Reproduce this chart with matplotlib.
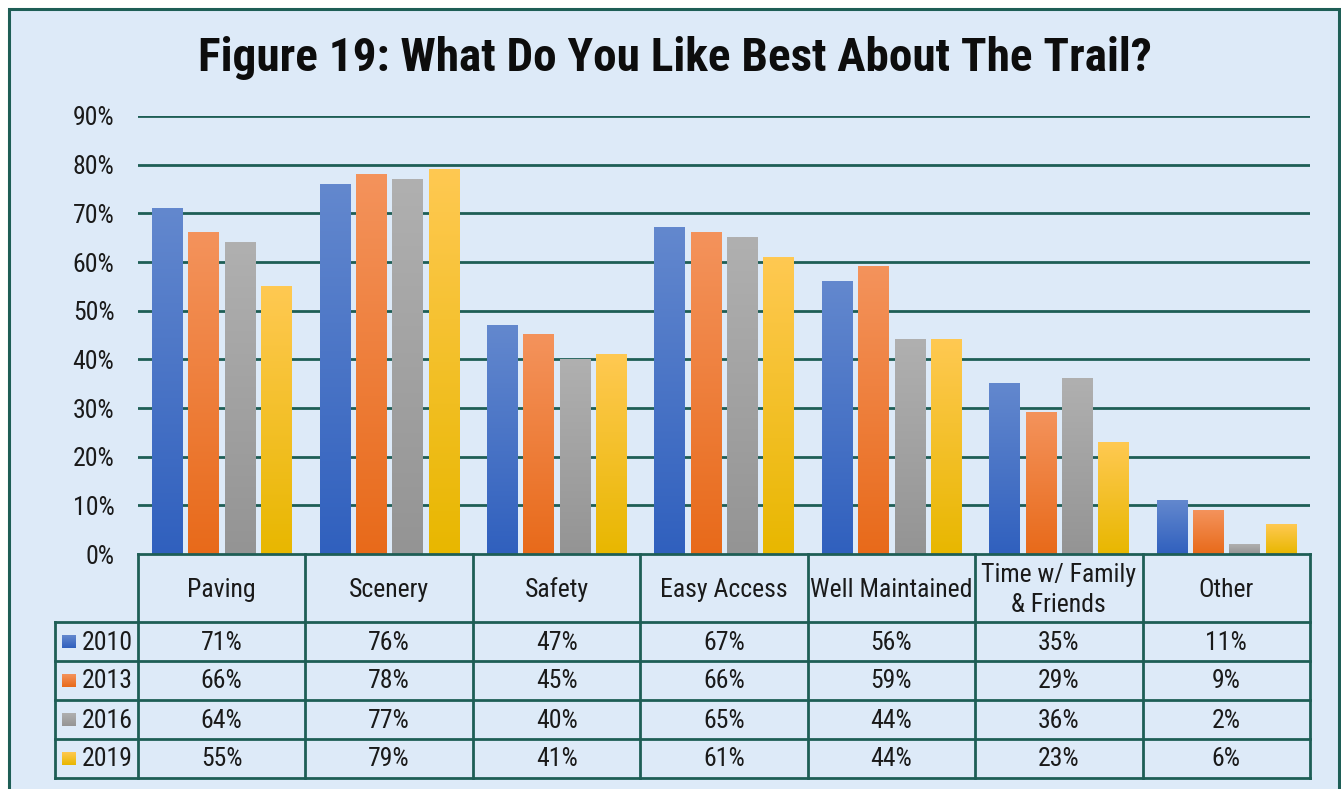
import numpy as np
import matplotlib
matplotlib.use("Agg")
import matplotlib.pyplot as plt
from matplotlib import font_manager
from matplotlib.patches import Rectangle
from matplotlib.colors import LinearSegmentedColormap

# prefer a narrow sans if one is installed
installed = {f.name for f in font_manager.fontManager.ttflist}
narrow = [f for f in ["Liberation Sans Narrow", "Roboto Condensed", "Open Sans Condensed",
                      "Noto Sans Display", "Liberation Sans"] if f in installed]
plt.rcParams['font.family'] = narrow[:1] + ['DejaVu Sans']
plt.rcParams['font.stretch'] = 'condensed'

# survey results (share of respondents)
categories = ["Paving", "Scenery", "Safety", "Easy Access", "Well Maintained",
              "Time w/ Family\n& Friends", "Other"]
years = ["2010", "2013", "2016", "2019"]
v2010 = [71, 76, 47, 67, 56, 35, 11]
v2013 = [66, 78, 45, 66, 59, 29, 9]
v2016 = [64, 77, 40, 65, 44, 36, 2]
v2019 = [55, 79, 41, 61, 44, 23, 6]
series = [v2010, v2013, v2016, v2019]
yticks = [0, 10, 20, 30, 40, 50, 60, 70, 80, 90]

# light (top) / dark (bottom) for each series gradient
grad = [("#6388CE", "#3060BE"),
        ("#F4935C", "#E86A1A"),
        ("#B0B0B0", "#949494"),
        ("#FFC952", "#E8B700")]
bg = "#DDEAF8"
teal = "#1E5E56"
fs = 18.5 if narrow[:1] != ["Liberation Sans"] else 16

W, H = 1341, 789
fig = plt.figure(figsize=(W / 100, H / 100), dpi=100, facecolor="white")

def fbox(x0, y0, x1, y1):
    return [x0 / W, 1 - y1 / H, (x1 - x0) / W, (y1 - y0) / H]

# outer frame
fig.patches.append(Rectangle((8.5 / W, -0.05), (1338.5 - 8.5) / W, 1.05 - 8.5 / H,
                             transform=fig.transFigure, facecolor=bg,
                             edgecolor=teal, linewidth=2.2, zorder=-10))

fig.text(675 / W, 1 - 58 / H, "Figure 19: What Do You Like Best About The Trail?",
         ha="center", va="center", fontsize=fs * 34 / 18.5, fontweight="bold", color="#0D0D0D")

# bars
ax = fig.add_axes(fbox(138, 116, 1310, 554))
ax.set_facecolor("none")
ax.set_xlim(0, 7)
ax.set_ylim(0, 90)
for s in ax.spines.values():
    s.set_visible(False)
ax.set_xticks([])
ax.set_yticks(yticks)
ax.set_yticklabels([f"{t}%" for t in yticks], fontsize=fs, color="#1A1A1A")
ax.tick_params(axis="y", length=0, pad=17)
for t in yticks[1:]:
    ax.axhline(t, color=teal, linewidth=2, zorder=1)

x = np.arange(len(categories)) + 0.5
bw = 0.18
step = 0.217
ramp = np.linspace(0, 1, 256).reshape(-1, 1)
for j, vals in enumerate(series):
    cmap = LinearSegmentedColormap.from_list(years[j], [grad[j][1], grad[j][0]])
    bars = ax.bar(x + (j - 1.5) * step, vals, width=bw, color=grad[j][1], zorder=2)
    for b in bars:
        x0, h = b.get_x(), b.get_height()
        ax.imshow(ramp, cmap=cmap, origin="lower", aspect="auto", zorder=3,
                  extent=[x0, x0 + b.get_width(), 0, h], interpolation="bilinear")
ax.set_xlim(0, 7)
ax.set_ylim(0, 90)

# data table
tb = fig.add_axes(fbox(138, 554, 1310, 778))
tb.set_facecolor("none")
tb.set_xlim(0, 7)
tb.set_ylim(224, 0)
tb.axis("off")
rows = [0, 68, 107, 146, 185, 224]
colw = 1172 / 7
leg_x = -83 / colw
lw = 2
for i in range(8):
    tb.plot([i, i], [0, 224], color=teal, linewidth=lw, clip_on=False, solid_capstyle="projecting")
tb.plot([0, 7], [0, 0], color=teal, linewidth=lw, clip_on=False)
for r in rows[1:]:
    tb.plot([leg_x, 7], [r, r], color=teal, linewidth=lw, clip_on=False, solid_capstyle="projecting")
tb.plot([leg_x, leg_x], [rows[1], 224], color=teal, linewidth=lw, clip_on=False)

for i, c in enumerate(categories):
    tb.text(i + 0.5, rows[1] / 2 + 2, c, ha="center", va="center", fontsize=fs,
            color="#1A1A1A", linespacing=1.3)
for j, vals in enumerate(series):
    yc = (rows[j + 1] + rows[j + 2]) / 2
    cmap = LinearSegmentedColormap.from_list(years[j], [grad[j][1], grad[j][0]])
    sq = 14 / colw
    im = tb.imshow(ramp, cmap=cmap, origin="lower", aspect="auto",
                   extent=[-76 / colw, -76 / colw + sq, yc + 6.5, yc - 6.5])
    im.set_clip_on(False)
    tb.text(-56 / colw, yc + 1, years[j], ha="left", va="center", fontsize=fs,
            color="#1A1A1A")
    for i, v in enumerate(vals):
        tb.text(i + 0.5, yc + 1, f"{v}%", ha="center", va="center", fontsize=fs,
                color="#1A1A1A")
tb.set_xlim(0, 7)
tb.set_ylim(224, 0)

fig.savefig("out.png", dpi=100, facecolor="white")
